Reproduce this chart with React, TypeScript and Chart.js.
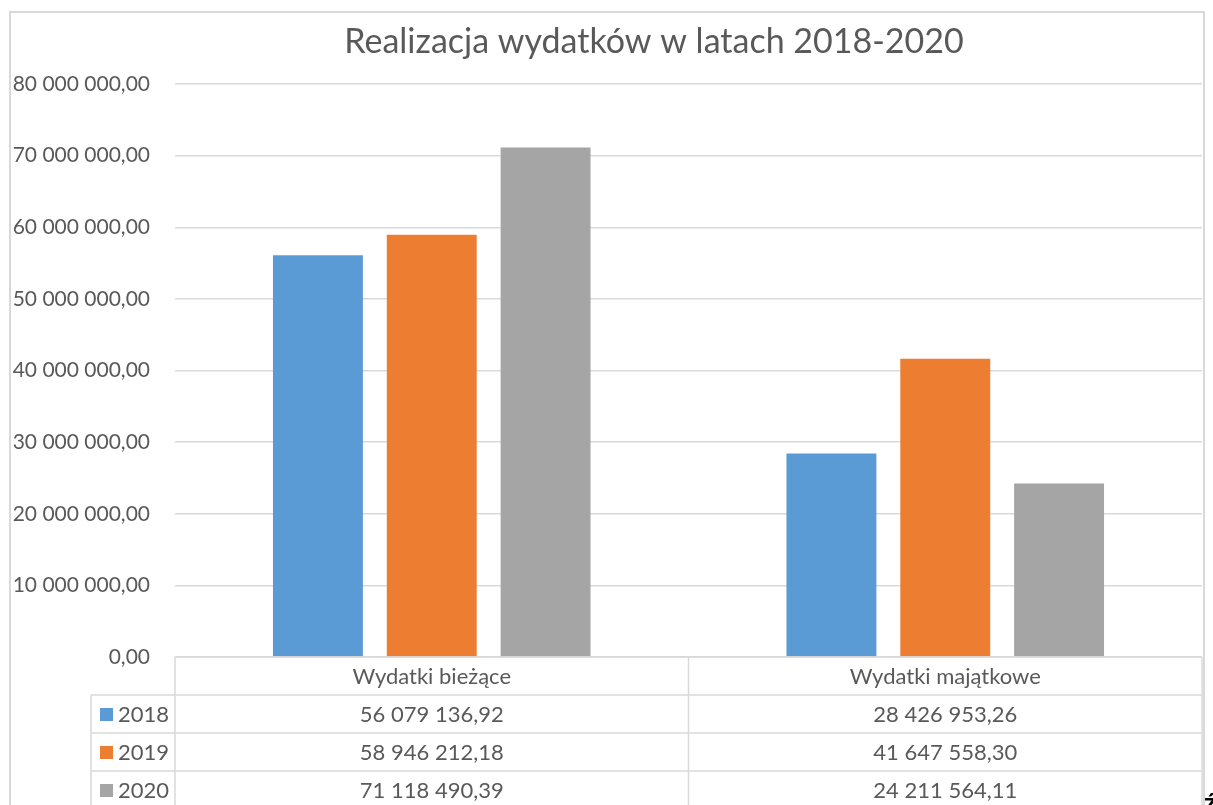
import React, { useEffect, useRef } from "react";
import { Chart, registerables } from "chart.js";

Chart.register(...registerables);

const chartTitle = "Realizacja wydatków w latach 2018-2020";
const categories = ["Wydatki bieżące", "Wydatki majątkowe"];
const seriesNames = ["2018", "2019", "2020"];
const values2018 = [56079136.92, 28426953.26];
const values2019 = [58946212.18, 41647558.3];
const values2020 = [71118490.39, 24211564.11];
const seriesColors = ["#5B9BD5", "#ED7D31", "#A5A5A5"];
const yMin = 0;
const yMax = 80000000;
const yStep = 10000000;

const TEXT = "#595959";
const GRID = "#d9d9d9";
const FONT = "Lato";

function fmt(v: number): string {
  const [i, d] = v.toFixed(2).split(".");
  return i.replace(/\B(?=(\d{3})+(?!\d))/g, " ") + "," + d;
}

const allSeries = [values2018, values2019, values2020];

const decorPlugin = {
  id: "decor",
  beforeDraw(chart: any) {
    const ctx = chart.ctx;
    ctx.save();
    ctx.strokeStyle = GRID;
    ctx.lineWidth = 2;
    ctx.beginPath();
    ctx.moveTo(10, 830);
    ctx.lineTo(10, 12);
    ctx.lineTo(1204, 12);
    ctx.lineTo(1204, 830);
    ctx.stroke();
    ctx.fillStyle = TEXT;
    ctx.font = `34px ${FONT}`;
    ctx.textAlign = "center";
    ctx.textBaseline = "alphabetic";
    ctx.fillText(chartTitle, 654, 53);
    ctx.restore();
  },
  afterDraw(chart: any) {
    const ctx = chart.ctx;
    const ca = chart.chartArea;
    const xs = chart.scales.x;
    const top = ca.bottom;
    const rowH = 38;
    const x0 = ca.left - 84;
    const bottom = 830;
    const mid = (xs.getPixelForValue(0) + xs.getPixelForValue(1)) / 2;
    ctx.save();
    ctx.strokeStyle = GRID;
    ctx.lineWidth = 1.5;
    ctx.beginPath();
    ctx.moveTo(ca.left, top);
    ctx.lineTo(ca.right, top);
    for (let r = 1; r <= 4; r++) {
      ctx.moveTo(x0, top + r * rowH);
      ctx.lineTo(ca.right, top + r * rowH);
    }
    ctx.moveTo(x0, top + rowH);
    ctx.lineTo(x0, bottom);
    ctx.moveTo(ca.left, top);
    ctx.lineTo(ca.left, bottom);
    ctx.moveTo(mid, top);
    ctx.lineTo(mid, bottom);
    ctx.moveTo(ca.right, top);
    ctx.lineTo(ca.right, bottom);
    ctx.stroke();

    ctx.fillStyle = TEXT;
    ctx.font = `22px ${FONT}`;
    ctx.textBaseline = "middle";
    ctx.textAlign = "center";
    categories.forEach((c, i) => {
      ctx.fillText(c, xs.getPixelForValue(i), top + rowH / 2 + 1);
    });
    seriesNames.forEach((name, s) => {
      const cy = top + rowH * (s + 1) + rowH / 2 + 1;
      ctx.fillStyle = seriesColors[s];
      ctx.fillRect(x0 + 9, cy - 7, 13, 13);
      ctx.fillStyle = TEXT;
      ctx.textAlign = "left";
      ctx.fillText(name, x0 + 27, cy);
      ctx.textAlign = "center";
      allSeries[s].forEach((v, i) => {
        ctx.fillText(fmt(v), xs.getPixelForValue(i), cy);
      });
    });
    ctx.fillStyle = "#000000";
    ctx.font = `bold 26px ${FONT}`;
    ctx.textAlign = "left";
    ctx.textBaseline = "alphabetic";
    ctx.fillText("ź", 1204, 812);
    ctx.restore();
  },
};

export default function App() {
  const ref = useRef<HTMLCanvasElement>(null);
  useEffect(() => {
    if (!ref.current) return;
    const chart = new Chart(ref.current, {
      type: "bar",
      data: {
        labels: categories,
        datasets: seriesNames.map((n, s) => ({
          label: n,
          data: allSeries[s],
          backgroundColor: seriesColors[s],
          borderWidth: 0,
          barPercentage: 0.79,
          categoryPercentage: 0.665,
        })),
      },
      options: {
        responsive: false,
        animation: false,
        devicePixelRatio: 1,
        layout: { padding: { top: 84, right: 11, bottom: 148, left: 0 } },
        plugins: {
          legend: { display: false },
          title: { display: false },
          tooltip: { enabled: false },
        },
        scales: {
          x: { display: false },
          y: {
            min: yMin,
            max: yMax,
            afterFit: (scale: any) => {
              scale.width = 175;
            },
            ticks: {
              stepSize: yStep,
              padding: 25,
              color: TEXT,
              font: { family: FONT, size: 21 },
              callback: (v: any) => fmt(Number(v)),
            },
            grid: { color: GRID, lineWidth: 1.5, drawTicks: false },
            border: { display: false },
          },
        },
      },
      plugins: [decorPlugin],
    });
    return () => chart.destroy();
  }, []);
  return (
    <div style={{ position: "absolute", left: 0, top: 0, width: 1213, height: 805, overflow: "hidden", background: "#fff" }}>
      <canvas ref={ref} width={1213} height={805} style={{ display: "block" }} />
    </div>
  );
}
